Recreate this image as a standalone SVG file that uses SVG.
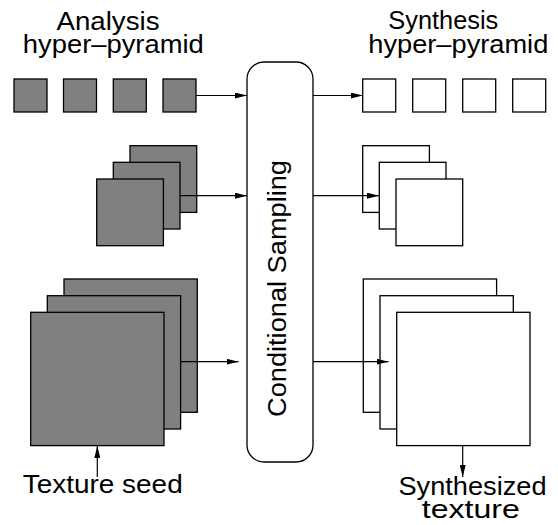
<svg xmlns="http://www.w3.org/2000/svg" width="558" height="525" viewBox="0 0 558 525">
<defs>
<marker id="ah" markerWidth="12" markerHeight="6" refX="12" refY="3" orient="auto" markerUnits="userSpaceOnUse">
<path d="M0,0 L12,3 L0,6 Z" fill="#000"/>
</marker>
<style>
.d{fill:#808080;stroke:#000;stroke-width:1.3}
.w{fill:#fff;stroke:#000;stroke-width:1.3}
.c{fill:none;stroke:#000;stroke-width:1.2;marker-end:url(#ah)}
text{font-family:"Liberation Sans",Arial,sans-serif;font-size:25px;fill:#000}
</style>
</defs>
<g id="analysis-label">
<text x="108" y="30" text-anchor="middle" textLength="103" lengthAdjust="spacingAndGlyphs">Analysis</text>
<text x="113.3" y="53.3" text-anchor="middle" textLength="181" lengthAdjust="spacingAndGlyphs">hyper–pyramid</text>
</g>
<g id="synthesis-label">
<text x="443.3" y="29" text-anchor="middle" textLength="110" lengthAdjust="spacingAndGlyphs">Synthesis</text>
<text x="458.3" y="53.3" text-anchor="middle" textLength="180" lengthAdjust="spacingAndGlyphs">hyper–pyramid</text>
</g>
<g id="analysis-small">
<rect class="d" x="14" y="79" width="33" height="33"/>
<rect class="d" x="63.5" y="79" width="33" height="33"/>
<rect class="d" x="113.3" y="79" width="33" height="33"/>
<rect class="d" x="163" y="79" width="33" height="33"/>
</g>
<g id="synthesis-small">
<rect class="w" x="362.7" y="79" width="33" height="33"/>
<rect class="w" x="412.7" y="79" width="33" height="33"/>
<rect class="w" x="462.7" y="79" width="33" height="33"/>
<rect class="w" x="512.7" y="79" width="33" height="33"/>
</g>
<g id="analysis-medium">
<rect class="d" x="130" y="145.7" width="66.7" height="66.7"/>
<rect class="d" x="113.3" y="162.3" width="66.7" height="66.7"/>
<rect class="d" x="96.7" y="179" width="66.7" height="66.7"/>
</g>
<g id="synthesis-medium">
<rect class="w" x="362.7" y="145.7" width="66.7" height="66.7"/>
<rect class="w" x="379.3" y="162.3" width="66.7" height="66.7"/>
<rect class="w" x="396" y="179" width="66.7" height="66.7"/>
</g>
<g id="analysis-large">
<rect class="d" x="64" y="279" width="133.3" height="133.3"/>
<rect class="d" x="47.3" y="295.7" width="133.3" height="133.3"/>
<rect class="d" x="30.7" y="312.3" width="133.3" height="133.3"/>
</g>
<g id="synthesis-large">
<rect class="w" x="363.3" y="279" width="133.3" height="133.3"/>
<rect class="w" x="380" y="295.7" width="133.3" height="133.3"/>
<rect class="w" x="396.7" y="312.3" width="133.3" height="133.3"/>
</g>
<g id="conditional-sampling">
<rect x="247" y="62" width="66" height="400" rx="17" ry="17" fill="#fff" stroke="#000" stroke-width="1.3"/>
<text transform="translate(285.5,288.5) rotate(-90)" x="0" y="0" text-anchor="middle" textLength="257" lengthAdjust="spacingAndGlyphs">Conditional Sampling</text>
</g>
<g id="texture-seed">
<text x="102.7" y="493.3" text-anchor="middle" textLength="160" lengthAdjust="spacingAndGlyphs">Texture seed</text>
</g>
<g id="synthesized-texture">
<text x="472.5" y="495" text-anchor="middle" textLength="148" lengthAdjust="spacingAndGlyphs">Synthesized</text>
<text x="470.8" y="518.3" text-anchor="middle" textLength="98" lengthAdjust="spacingAndGlyphs">texture</text>
</g>
<g id="connectors">
<line class="c" x1="196" y1="95.5" x2="247" y2="95.5"/>
<line class="c" x1="313" y1="95.5" x2="362.7" y2="95.5"/>
<line class="c" x1="180" y1="195.7" x2="247" y2="195.7"/>
<line class="c" x1="313" y1="195.7" x2="379" y2="195.7"/>
<line class="c" x1="180.7" y1="361.7" x2="238.5" y2="361.7"/>
<line class="c" x1="313" y1="361.7" x2="388.5" y2="361.7"/>
<line class="c" x1="97.3" y1="477" x2="97.3" y2="446"/>
<line class="c" x1="462.7" y1="445.5" x2="462.7" y2="477"/>
</g>
</svg>
